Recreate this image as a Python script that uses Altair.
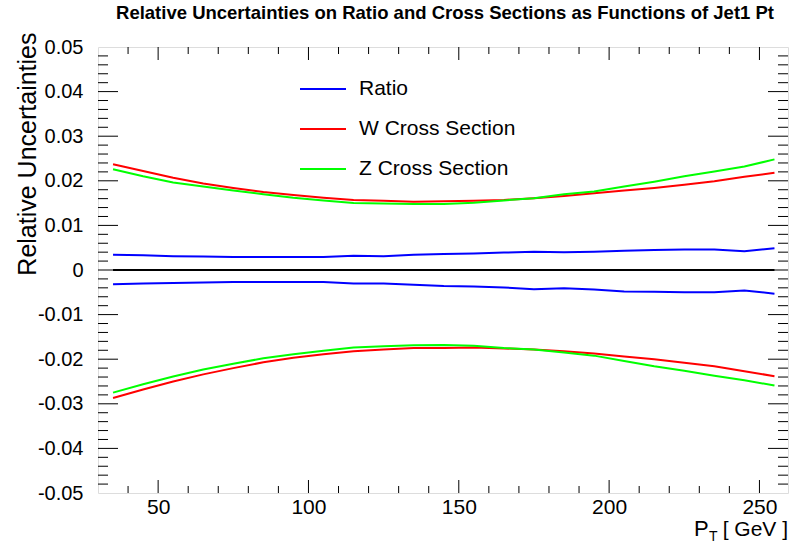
import altair as alt
import pandas as pd

# ---- data ----
pt = [35, 45, 55, 65, 75, 85, 95, 105, 115, 125, 135, 145, 155, 165, 175, 185, 195, 205, 215, 225, 235, 245, 255]

ratio_up = [0.0034, 0.0033, 0.0031, 0.0030, 0.0029, 0.0029, 0.0029, 0.0029, 0.0032, 0.0031, 0.0034, 0.0036,
            0.0037, 0.0039, 0.0041, 0.0040, 0.0041, 0.0043, 0.0045, 0.0046, 0.0046, 0.0042, 0.0049]
ratio_down = [-0.0032, -0.0030, -0.0029, -0.0028, -0.0027, -0.0027, -0.0027, -0.0027, -0.0030, -0.0030, -0.0033, -0.0036,
              -0.0037, -0.0039, -0.0043, -0.0041, -0.0044, -0.0048, -0.0049, -0.0050, -0.0050, -0.0046, -0.0053]
w_up = [0.0237, 0.0222, 0.0207, 0.0194, 0.0184, 0.0175, 0.0168, 0.0162, 0.0157, 0.0155, 0.0153, 0.0154,
        0.0155, 0.0157, 0.0161, 0.0166, 0.0172, 0.0178, 0.0184, 0.0191, 0.0199, 0.0209, 0.0218]
w_down = [-0.0287, -0.0268, -0.0250, -0.0234, -0.0220, -0.0207, -0.0197, -0.0189, -0.0182, -0.0178, -0.0175, -0.0175,
          -0.0174, -0.0176, -0.0178, -0.0182, -0.0187, -0.0194, -0.0200, -0.0208, -0.0216, -0.0227, -0.0238]
z_up = [0.0226, 0.0210, 0.0196, 0.0187, 0.0178, 0.0170, 0.0162, 0.0156, 0.0150, 0.0149, 0.0148, 0.0148,
        0.0151, 0.0156, 0.0161, 0.0170, 0.0176, 0.0187, 0.0198, 0.0210, 0.0221, 0.0232, 0.0248]
z_down = [-0.0275, -0.0256, -0.0239, -0.0223, -0.0210, -0.0198, -0.0189, -0.0181, -0.0174, -0.0171, -0.0169, -0.0168,
          -0.0170, -0.0175, -0.0178, -0.0185, -0.0192, -0.0204, -0.0216, -0.0226, -0.0237, -0.0247, -0.0259]
zero_line = [0.0] * len(pt)

series_names = ["Ratio", "W Cross Section", "Z Cross Section"]
series_colors = ["#0000ff", "#ff0000", "#00ff00"]

x_major = [50, 100, 150, 200, 250]
x_minor = [40, 60, 70, 80, 90, 110, 120, 130, 140, 160, 170, 180, 190, 210, 220, 230, 240]
y_labels = [-0.05, -0.04, -0.03, -0.02, -0.01, 0.0, 0.01, 0.02, 0.03, 0.04, 0.05]
y_major = [-0.04, -0.03, -0.02, -0.01, 0.0, 0.01, 0.02, 0.03, 0.04]
y_minor = [-0.048, -0.046, -0.044, -0.042, -0.038, -0.036, -0.034, -0.032, -0.028, -0.026, -0.024, -0.022,
           -0.018, -0.016, -0.014, -0.012, -0.008, -0.006, -0.004, -0.002, 0.002, 0.004, 0.006, 0.008,
           0.012, 0.014, 0.016, 0.018, 0.022, 0.024, 0.026, 0.028, 0.032, 0.034, 0.036, 0.038,
           0.042, 0.044, 0.046, 0.048]

title_text = "Relative Uncertainties on Ratio and Cross Sections as Functions of Jet1 Pt"
y_title = "Relative Uncertainties"

# ---- tables ----
rows = []
for name, branch, vals in [("Ratio", "up", ratio_up), ("Ratio", "down", ratio_down),
                           ("W Cross Section", "up", w_up), ("W Cross Section", "down", w_down),
                           ("Z Cross Section", "up", z_up), ("Z Cross Section", "down", z_down)]:
    for p, v in zip(pt, vals):
        rows.append({"pT": p, "val": v, "series": name, "branch": name + branch})
df = pd.DataFrame(rows)
zero_df = pd.DataFrame({"pT": pt, "val": zero_line})

W, H = 690, 446
FONT = "Liberation Sans"

xs = alt.Scale(domain=[30, 259.5], nice=False, zero=False)
ys = alt.Scale(domain=[-0.05, 0.05], nice=False, zero=False)

xaxis = alt.Axis(values=x_major, tickSize=0, domain=False, grid=False, title=None,
                 labelFont=FONT, labelFontSize=21, labelColor="black", labelPadding=3)
yaxis = alt.Axis(values=y_labels, tickSize=0, domain=False, grid=False, title=y_title,
                 labelExpr="abs(datum.value) < 1e-9 ? '0' : (datum.value < 0 ? '-' : '') + format(abs(datum.value), '.2f')",
                 labelFont=FONT, labelFontSize=20, labelColor="black", labelPadding=15,
                 titleFont=FONT, titleFontSize=25, titleFontWeight="normal", titleColor="black",
                 titleAngle=270, titleAlign="right", titleBaseline="alphabetic",
                 titleX=-63, titleY=-15)

zero = alt.Chart(zero_df).mark_line(color="black", strokeWidth=2).encode(
    x=alt.X("pT:Q", scale=xs, axis=xaxis),
    y=alt.Y("val:Q", scale=ys, axis=yaxis),
)

lines = alt.Chart(df).mark_line(strokeWidth=2).encode(
    x=alt.X("pT:Q", scale=xs, axis=xaxis),
    y=alt.Y("val:Q", scale=ys, axis=yaxis),
    color=alt.Color("series:N", scale=alt.Scale(domain=series_names, range=series_colors),
                    legend=alt.Legend(title=None, orient="none", legendX=214, legendY=31,
                                      symbolType="M-2.3,0L2.3,0", symbolSize=400,
                                      symbolStrokeWidth=2, labelFont=FONT, labelFontSize=21,
                                      labelColor="black", labelOffset=25, rowPadding=19,
                                      padding=0)),
    detail="branch:N",
)

def xticks(vals, length, top):
    d = pd.DataFrame({"v": vals})
    if top:
        yy, yy2 = alt.value(0), alt.value(length)
    else:
        yy, yy2 = alt.value(H), alt.value(H - length)
    return alt.Chart(d).mark_rule(color="black", strokeWidth=1).encode(
        x=alt.X("v:Q", scale=xs, axis=xaxis), y=yy, y2=yy2)

def yticks(vals, length, right):
    d = pd.DataFrame({"v": vals})
    if right:
        xx, xx2 = alt.value(W), alt.value(W - length)
    else:
        xx, xx2 = alt.value(0), alt.value(length)
    return alt.Chart(d).mark_rule(color="black", strokeWidth=1).encode(
        y=alt.Y("v:Q", scale=ys, axis=yaxis), x=xx, x2=xx2)

tick_layers = [
    xticks(x_major, 13, False), xticks(x_minor, 7, False),
    xticks(x_major, 13, True), xticks(x_minor, 7, True),
    yticks(y_major, 20, False), yticks(y_minor, 10, False),
    yticks(y_major, 20, True), yticks(y_minor, 10, True),
]

title_df = pd.DataFrame({"t": [title_text]})
title_mark = alt.Chart(title_df).mark_text(font=FONT, fontSize=18.5, fontWeight="bold", align="center",
                                           baseline="bottom", color="black").encode(
    text="t:N", x=alt.value(347), y=alt.value(-24))

lab = pd.DataFrame({"t": ["P"]})
xt_p = alt.Chart(lab).mark_text(font=FONT, fontSize=22, align="left", baseline="alphabetic",
                                color="black").encode(
    text="t:N", x=alt.value(596), y=alt.value(489))
lab_t = pd.DataFrame({"t": ["T"]})
xt_t = alt.Chart(lab_t).mark_text(font=FONT, fontSize=14, align="left", baseline="alphabetic",
                                  color="black").encode(
    text="t:N", x=alt.value(611), y=alt.value(494))
lab_g = pd.DataFrame({"t": ["[ GeV ]"]})
xt_g = alt.Chart(lab_g).mark_text(font=FONT, fontSize=21, align="right", baseline="alphabetic",
                                  color="black").encode(
    text="t:N", x=alt.value(W), y=alt.value(489))

chart = alt.layer(zero, lines, *tick_layers, title_mark, xt_p, xt_t, xt_g).properties(
    width=W, height=H,
    autosize=alt.AutoSizeParams(type="none"),
    padding={"left": 98, "top": 47, "right": 3, "bottom": 52},
).configure_view(stroke="black", strokeWidth=1.5).configure(background="white")

chart.save("out.html", embed_options={"renderer": "svg", "actions": False})
